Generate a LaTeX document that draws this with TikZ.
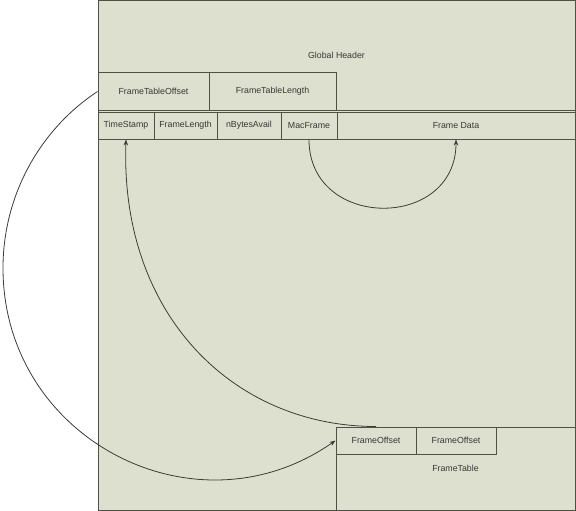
\documentclass[tikz,border=0pt]{standalone}
\usepackage{fontspec}
\setmainfont{Liberation Sans}
\usetikzlibrary{arrows.meta}

\definecolor{cellfill}{RGB}{222,224,207}
\definecolor{cellline}{RGB}{80,81,68}
\definecolor{connline}{RGB}{60,60,52}
\definecolor{celltext}{RGB}{55,55,50}

\tikzset{
    cell/.style={draw=cellline, fill=cellfill, line width=1pt, inner sep=0pt,
        text=celltext, font=\fontsize{8.8}{10}\selectfont},
    conn/.style={draw=connline, line width=0.8pt, -{Stealth[length=6pt,width=4.5pt]}}
}

\begin{document}
\begin{tikzpicture}[x=1pt, y=-1pt]
    \useasboundingbox (0,0) rectangle (576,511);

    % file body and global header
        \node[cell, minimum width=477pt, minimum height=509pt] (body) at (336.5,255.5) {};
        \node[cell, minimum width=477pt, minimum height=109pt] (header) at (336.5,55.5) {Global Header};
        \node[cell, minimum width=111pt, minimum height=37pt] (ftoff) at (153.5,91.5) {FrameTableOffset};
        \node[cell, minimum width=127pt, minimum height=37pt] (ftlen) at (272.5,91.5) {FrameTableLength};

    % frame record
        \node[cell, minimum width=56pt, minimum height=27pt] (ts) at (126,125.5) {TimeStamp};
        \node[cell, minimum width=63pt, minimum height=27pt] (flen) at (185.5,125.5) {FrameLength};
        \node[cell, minimum width=64pt, minimum height=27pt] (nba) at (249,125.5) {nBytesAvail};
        \node[cell, minimum width=56pt, minimum height=27pt] (mac) at (309,125.5) {MacFrame};
        \node[cell, minimum width=238pt, minimum height=27pt] (fdata) at (456,125.5) {Frame Data};

    % frame table
        \node[cell, minimum width=239pt, minimum height=83pt, text depth=-2pt] (ftable) at (455.5,468.5) {FrameTable};
        \node[cell, minimum width=80pt, minimum height=27pt] (fo1) at (376,440.5) {FrameOffset};
        \node[cell, minimum width=80pt, minimum height=27pt] (fo2) at (456,440.5) {FrameOffset};

    % connectors
        \coordinate (bend) at (3,268);
        \draw[conn] (mac.south) .. controls +(0,91) and +(0,91) .. (fdata.south);
        \draw[conn] (fo1.north) .. controls +(-142,0) and +(-6,176) .. (ts.south);
        \draw[conn] (ftoff.west) .. controls +(-59,39) and +(0,-71) .. (bend)
            .. controls +(0,171) and +(-140,98) .. (fo1.west);

\end{tikzpicture}
\end{document}
